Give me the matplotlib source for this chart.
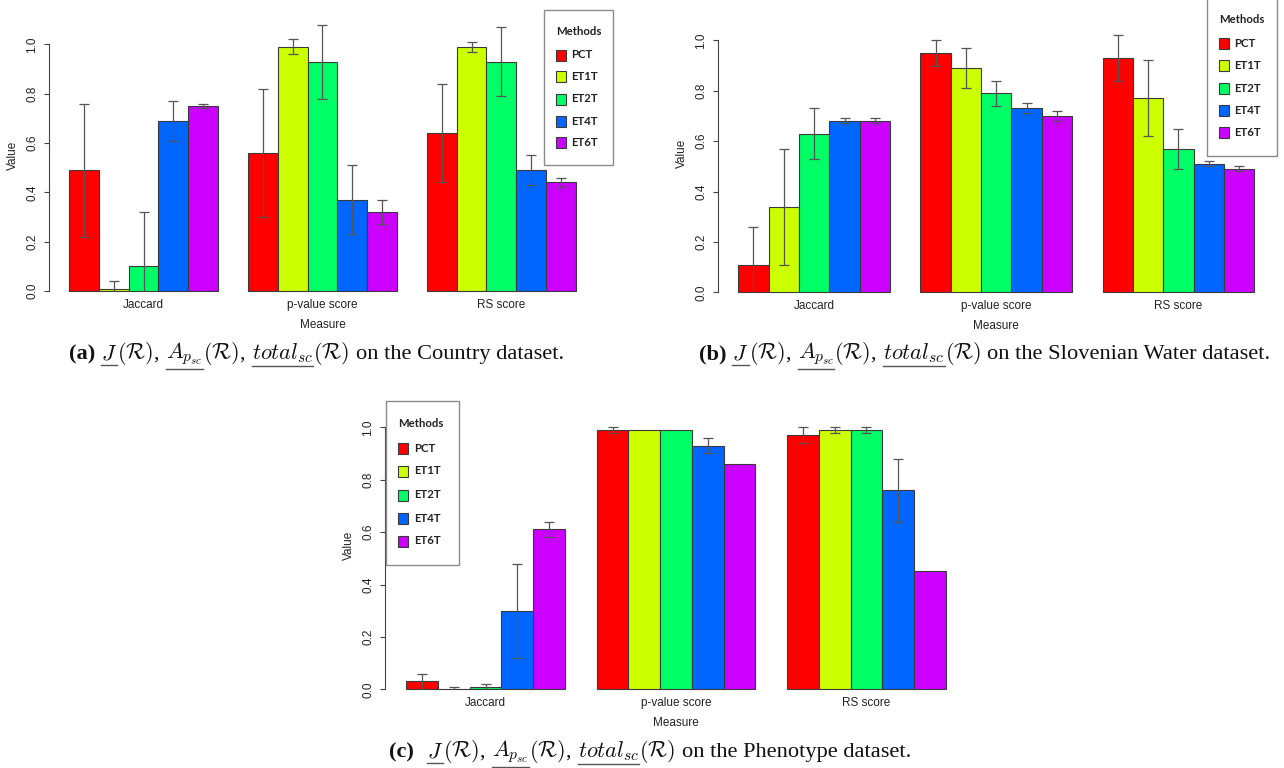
import matplotlib
matplotlib.use("Agg")
import matplotlib.pyplot as plt
import matplotlib.transforms as mtransforms
from matplotlib.patches import Rectangle
from matplotlib.lines import Line2D

# ---------------- data ----------------
methods = ["PCT", "ET1T", "ET2T", "ET4T", "ET6T"]
colors = ["#FF0000", "#CCFF00", "#00FF66", "#0066FF", "#CC00FF"]
measures = ["Jaccard", "p-value score", "RS score"]
yticks = [0.0, 0.2, 0.4, 0.6, 0.8, 1.0]
ytick_labels = ["0.0", "0.2", "0.4", "0.6", "0.8", "1.0"]
x_label = "Measure"
y_label = "Value"
legend_title = "Methods"

# Country dataset (rows: measures, cols: methods)
country_vals = [[0.49, 0.01, 0.10, 0.69, 0.75],
                [0.56, 0.99, 0.93, 0.37, 0.32],
                [0.64, 0.99, 0.93, 0.49, 0.44]]
country_lo = [[0.22, 0.00, 0.00, 0.61, 0.74],
              [0.30, 0.96, 0.78, 0.23, 0.27],
              [0.44, 0.97, 0.79, 0.43, 0.42]]
country_hi = [[0.76, 0.04, 0.32, 0.77, 0.76],
              [0.82, 1.02, 1.08, 0.51, 0.37],
              [0.84, 1.01, 1.07, 0.55, 0.46]]

# Slovenian Water dataset
water_vals = [[0.11, 0.34, 0.63, 0.68, 0.68],
              [0.95, 0.89, 0.79, 0.73, 0.70],
              [0.93, 0.77, 0.57, 0.51, 0.49]]
water_lo = [[0.00, 0.11, 0.53, 0.67, 0.67],
            [0.90, 0.81, 0.74, 0.71, 0.68],
            [0.84, 0.62, 0.49, 0.50, 0.48]]
water_hi = [[0.26, 0.57, 0.73, 0.69, 0.69],
            [1.00, 0.97, 0.84, 0.75, 0.72],
            [1.02, 0.92, 0.65, 0.52, 0.50]]

# Phenotype dataset
pheno_vals = [[0.03, 0.00, 0.01, 0.30, 0.61],
              [0.99, 0.99, 0.99, 0.93, 0.86],
              [0.97, 0.99, 0.99, 0.76, 0.45]]
pheno_lo = [[0.00, 0.00, 0.00, 0.12, 0.58],
            [0.98, 0.99, 0.99, 0.90, 0.86],
            [0.94, 0.98, 0.98, 0.64, 0.45]]
pheno_hi = [[0.06, 0.01, 0.02, 0.48, 0.64],
            [1.00, 0.99, 0.99, 0.96, 0.86],
            [1.00, 1.00, 1.00, 0.88, 0.45]]

panel_tags = ["(a)", "(b)", "(c)"]
dataset_names = ["Country", "Slovenian Water", "Phenotype"]

# ---------------- layout (pixels) ----------------
W, H = 1284, 768
layouts = [
    dict(xs=69.0, u=29.82, y0=291.0, yu=246.7,
         box=(544.0, 10.3, 612.7, 165.0), title=(556.0, 31.7), patch_x=556.4, text_x=571.0,
         ys=[55.0, 76.7, 99.0, 121.3, 142.7],
         cap=(69.4, 359.0, 0.25)),
    dict(xs=738.3, u=30.35, y0=292.3, yu=252.0,
         box=(1207.2, -5.0, 1277.3, 155.7), title=(1219.0, 19.3), patch_x=1219.0, text_x=1234.0,
         ys=[43.3, 65.3, 88.3, 110.7, 132.7],
         cap=(699.4, 359.0, 0.25)),
    dict(xs=406.3, u=31.73, y0=689.3, yu=262.0,
         box=(385.5, 401.0, 458.6, 565.0), title=(397.8, 423.3), patch_x=397.8, text_x=413.7,
         ys=[448.3, 471.0, 495.0, 518.3, 541.0],
         cap=(389.0, 757.0, 0.6)),
]
datasets = [(country_vals, country_lo, country_hi),
            (water_vals, water_lo, water_hi),
            (pheno_vals, pheno_lo, pheno_hi)]

plt.rcParams["mathtext.fontset"] = "cm"
SANS = "Liberation Sans"
LEG = "Lato"
SERIF = "Liberation Serif"
TXT = "#222222"

fig = plt.figure(figsize=(W / 100, H / 100), dpi=100)


def fx(px):
    return px / W


def fy(py):
    return 1 - py / H


for lay, (vals, lo, hi) in zip(layouts, datasets):
    xs, u, y0, yu = lay["xs"], lay["u"], lay["y0"], lay["yu"]
    xl, xr = 0.32, 18.68
    yl, yh = -0.044, 1.144
    left = xs + (xl - 1) * u
    right = xs + (xr - 1) * u
    top = y0 - yh * yu
    bottom = y0 - yl * yu
    ax = fig.add_axes([fx(left), fy(bottom), (right - left) / W, (bottom - top) / H])
    ax.set_xlim(xl, xr)
    ax.set_ylim(yl, yh)
    ax.patch.set_visible(False)
    for s in ["top", "right", "bottom"]:
        ax.spines[s].set_visible(False)
    ax.spines["left"].set_bounds(0, 1)
    ax.spines["left"].set_color("#444444")
    ax.spines["left"].set_linewidth(0.8)

    centers = []
    for g in range(len(measures)):
        for m in range(len(methods)):
            xc = 1 + g * 6 + m + 0.5
            ax.bar(xc, vals[g][m], width=1, color=colors[m], edgecolor="#3a3a3a",
                   linewidth=0.8, clip_on=False, zorder=2)
            if hi[g][m] > lo[g][m]:
                ax.vlines(xc, lo[g][m], hi[g][m], color="#555555", linewidth=0.9,
                          clip_on=False, zorder=3)
                ax.plot([xc], [hi[g][m]], marker="_", ms=7.7, mew=0.9, color="#555555",
                        ls="none", clip_on=False, zorder=3)
                if lo[g][m] > 0:
                    ax.plot([xc], [lo[g][m]], marker="_", ms=7.7, mew=0.9, color="#555555",
                            ls="none", clip_on=False, zorder=3)
        centers.append(1 + g * 6 + 2.5)

    ax.set_xticks([])
    ax.set_yticks(yticks)
    ax.set_yticklabels(ytick_labels, rotation=90, va="center", fontsize=8.5,
                       family=SANS, color=TXT)
    ax.tick_params(axis="y", length=3.6, width=0.8, pad=4, color="#444444")

    tr_grp = mtransforms.offset_copy(ax.transData, fig=fig, x=0, y=-13.8, units="dots")
    for c, name in zip(centers, measures):
        ax.text(c, 0, name, transform=tr_grp, ha="center", va="center",
                fontsize=8.5, family=SANS, color=TXT)
    tr_meas = mtransforms.offset_copy(ax.transData, fig=fig, x=0, y=-34.0, units="dots")
    ax.text(9.5, 0, x_label, transform=tr_meas, ha="center", va="center",
            fontsize=8.5, family=SANS, color=TXT)
    tr_val = mtransforms.offset_copy(ax.transData, fig=fig, x=-35.5, y=0, units="dots")
    ax.text(xl, 0.55, y_label, transform=tr_val, ha="center", va="center",
            rotation=90, fontsize=8.5, family=SANS, color=TXT)

    # legend
    bx0, by0, bx1, by1 = lay["box"]
    fig.add_artist(Rectangle((fx(bx0), fy(by1)), (bx1 - bx0) / W, (by1 - by0) / H,
                             transform=fig.transFigure, facecolor="white",
                             edgecolor="#8a8a8a", linewidth=1.0, zorder=5))
    tx, ty = lay["title"]
    fig.text(fx(tx), fy(ty), legend_title, ha="left", va="center", fontsize=8.2,
             family=LEG, weight="bold", color=TXT, zorder=6)
    pw, ph = 10.0, 11.0
    for m, (name, col) in enumerate(zip(methods, colors)):
        yc = lay["ys"][m]
        fig.add_artist(Rectangle((fx(lay["patch_x"]), fy(yc + ph / 2)), pw / W, ph / H,
                                 transform=fig.transFigure, facecolor=col,
                                 edgecolor="#3a3a3a", linewidth=0.8, zorder=6))
        fig.text(fx(lay["text_x"]), fy(yc), name, ha="left", va="center", fontsize=8.2,
                 family=LEG, weight="bold", color=TXT, zorder=6)

# ---------------- captions ----------------
renderer = fig.canvas.get_renderer()
CAP_FS = 16.1

for lay, tag, dname in zip(layouts, panel_tags, dataset_names):
    x, base, tag_gap = lay["cap"]
    pieces = [
        (tag, True, False, tag_gap),
        (r"$J$", False, True, 0.0),
        (r"$(\mathcal{R})$,", False, False, 0.3),
        (r"$A_{p_{sc}}$", False, True, 0.0),
        (r"$(\mathcal{R})$,", False, False, 0.3),
        (r"$total_{sc}$", False, True, 0.0),
        (r"$(\mathcal{R})$", False, False, 0.3),
        ("on the " + dname + " dataset.", False, False, 0.0),
    ]
    for txt, bold, under, gap in pieces:
        t = fig.text(fx(x), fy(base), txt, ha="left", va="baseline", fontsize=CAP_FS,
                     family=SERIF, weight="bold" if bold else "normal", color="#111111")
        bb = t.get_window_extent(renderer)
        if under:
            yl_ = bb.y0 - 1.0
            fig.add_artist(Line2D([bb.x0 / W, bb.x1 / W], [yl_ / H, yl_ / H],
                                  transform=fig.transFigure, color="#555555", linewidth=1.0))
        x = bb.x1 + gap * CAP_FS * 100 / 72.0

fig.savefig("out.png", dpi=100)
